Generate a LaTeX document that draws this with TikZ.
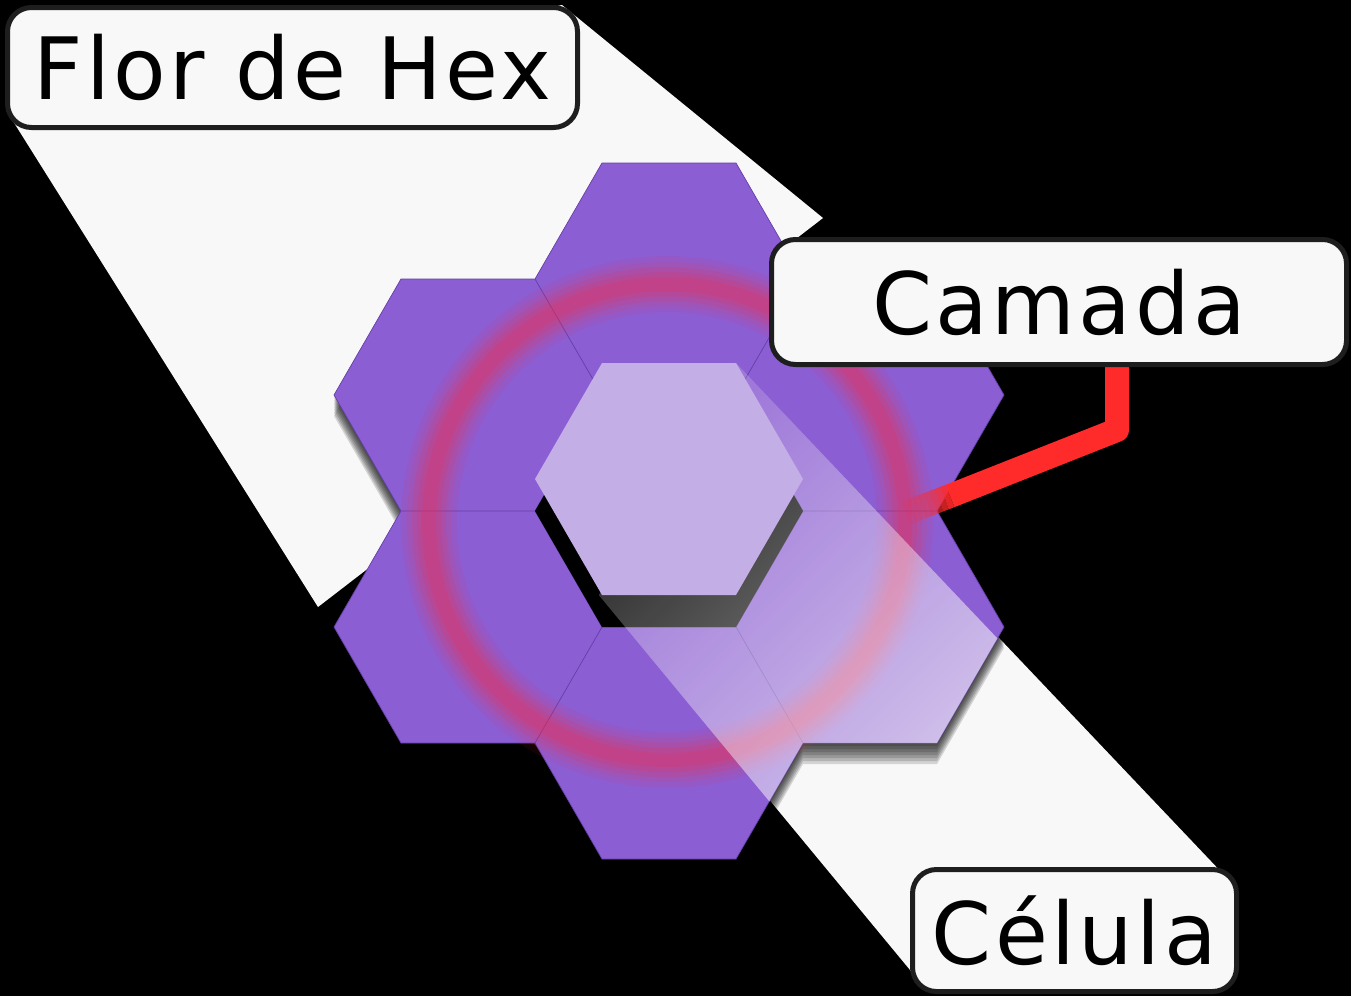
\documentclass[tikz,border=0pt]{standalone}
\usepackage{fontspec}
\setmainfont{DejaVu Sans}
\newfontfamily\tagfont[LetterSpace=4]{DejaVu Sans}
\usetikzlibrary{fadings, positioning, calc}

\definecolor{hexpurple}{RGB}{140,94,211}
\definecolor{hexedge}{RGB}{100,62,168}
\definecolor{cellpale}{RGB}{196,174,230}
\definecolor{beamgray}{RGB}{248,248,248}
\definecolor{tagline}{RGB}{30,30,30}
\definecolor{ringred}{RGB}{255,40,60}
\definecolor{linkred}{RGB}{255,42,42}

% flat-top hexagon, circumradius 134, centred on (#1,#2)
\newcommand{\hexpath}[2]{(#1+134,#2) -- ++(-67,116) -- ++(-134,0) -- ++(-67,-116) -- ++(67,-116) -- ++(134,0) -- cycle}
\newcommand{\petals}{669/279, 870/395, 870/627, 669/743, 468/627, 468/395}
\newcommand{\allcells}{669/279, 870/395, 870/627, 669/743, 468/627, 468/395, 669/511}

\tikzfading[name=beamfade, left color=transparent!82, right color=transparent!10]

\tikzset{
  tag/.style={rectangle, rounded corners=24pt, draw=tagline, line width=5pt,
              fill=beamgray, inner sep=0pt, align=center,
              font=\tagfont\fontsize{86}{90}\selectfont},
  beam/.style={fill=beamgray},
  link/.style={draw=linkred, line width=24pt, line join=round}
}

\begin{document}
\begin{tikzpicture}[x=1pt, y=-1pt]
\useasboundingbox (0,0) rectangle (1351,996);
\fill[black] (0,0) rectangle (1351,996);

% light beams behind the flower
\fill[beam] (6,110) -- (562,5) -- (823,218) -- (318,607) -- cycle;
\fill[beam] (600,595) -- (737,362) -- (1225,876) -- (915,976) -- cycle;

% soft shadow of the flower
\foreach \d in {3,6,...,21}
  \fill[black, opacity=0.15, shift={(0,\d)}] foreach \cx/\cy in \allcells {\hexpath{\cx}{\cy}};

% outer ring of cells
\fill[hexpurple, draw=hexedge, line width=0.7pt] foreach \cx/\cy in \petals {\hexpath{\cx}{\cy}};

% empty slot of the lifted cell
\fill[black] \hexpath{669}{511};

% layer ring
\foreach \w/\o in {56/0.08, 44/0.1, 34/0.12, 24/0.14, 14/0.16}
  \draw[ringred, line width=\w pt, opacity=\o] (667,522) circle[radius=238];

% beam light over the cells
\begin{scope}
  \clip foreach \cx/\cy in \allcells {\hexpath{\cx}{\cy}};
  \fill[beamgray, path fading=beamfade, fading angle=-45]
    (600,595) -- (737,362) -- (1225,876) -- (915,976) -- cycle;
\end{scope}

% lifted cell
\fill[cellpale] \hexpath{669}{479};

% pointer to the layer ring
\coordinate (bend) at (1117,430);
\coordinate (fadeFrom) at (950,496);
\coordinate (ringPt) at (906,513);
\path (1059,302) coordinate (camadaC);
\draw[link] (camadaC -| bend) -- (bend) -- (fadeFrom);
\foreach \i in {0,...,7}
  \draw[link, line cap=butt, opacity={1-(\i+1)/9}]
    ($(fadeFrom)!\i/8!(ringPt)$) -- ($(fadeFrom)!{(\i+1)/8}!(ringPt)$);

% labels
\node[tag, minimum width=570pt, minimum height=120pt] (flor) at (292.5,67.5) {Flor de Hex};
\node[tag, minimum width=575pt, minimum height=125pt] (camada) at (camadaC) {Camada};
\node[tag, minimum width=324pt, minimum height=122pt] (celula) at (1074.5,930.5) {Célula};
\end{tikzpicture}
\end{document}
